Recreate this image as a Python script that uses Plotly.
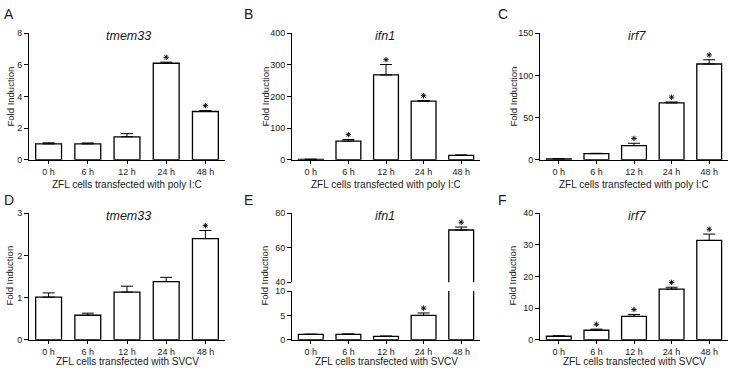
import plotly.graph_objects as go

W, H = 730, 371

categories = ["0 h", "6 h", "12 h", "24 h", "48 h"]

a_vals = [1.0, 1.0, 1.45, 6.1, 3.05]
a_err = [0.07, 0.06, 0.2, 0.07, 0.06]
a_sig = [0, 0, 0, 1, 1]

b_vals = [1.0, 59, 268, 185, 14]
b_err = [0.5, 5, 33, 2, 1]
b_sig = [0, 1, 1, 1, 0]

c_vals = [0.9, 7.2, 16.8, 67.4, 113.5]
c_err = [0.3, 0.4, 2.7, 1.0, 5.0]
c_sig = [0, 0, 1, 1, 1]

d_vals = [1.01, 0.58, 1.13, 1.38, 2.4]
d_err = [0.1, 0.05, 0.14, 0.1, 0.19]
d_sig = [0, 0, 0, 0, 1]

e_vals = [1.1, 1.1, 0.7, 5.0, 70.3]
e_err = [0.05, 0.1, 0.05, 0.5, 1.7]
e_sig = [0, 0, 0, 1, 1]

f_vals = [1.1, 3.0, 7.4, 16.0, 31.4]
f_err = [0.15, 0.35, 0.6, 0.6, 2.0]
f_sig = [0, 1, 1, 1, 1]

genes = ["tmem33", "ifn1", "irf7", "tmem33", "ifn1", "irf7"]
letters = ["A", "B", "C", "D", "E", "F"]
xtitles = ["ZFL cells transfected with poly I:C"] * 3 + ["ZFL cells transfected with SVCV"] * 3
y_ranges = [[0, 8], [0, 400], [0, 150], [0, 3], None, [0, 40]]
y_dticks = [2, 100, 50, 1, None, 10]
e_low_range = [0, 10]
e_up_range = [40, 80]

FONT = "Arial, Liberation Sans, sans-serif"
TXT = "#1a1a1a"

# pixel geometry
col_px = [(29, 225), (292, 480), (540, 728)]
row1 = (29, 159)
row2 = (214, 344)
e_low = (294, 344)
e_up = (214, 285)

def ydom(px):
    top, bot = px
    return [1 - bot / H, 1 - top / H]

def xdom(px):
    return [px[0] / W, px[1] / W]

fig = go.Figure()
layout = {}
annotations = []

vals_list = [a_vals, b_vals, c_vals, d_vals, e_vals, f_vals]
err_list = [a_err, b_err, c_err, d_err, e_err, f_err]
sig_list = [a_sig, b_sig, c_sig, d_sig, e_sig, f_sig]

xidx = list(range(len(categories)))

axis_common = dict(
    showline=True, linecolor="black", linewidth=1, ticks="outside",
    tickcolor="black", ticklen=4, tickwidth=1, showgrid=False, zeroline=False,
    tickfont=dict(family=FONT, size=9, color=TXT),
)

def add_bars(xa, ya, vals, errs, show_err=None):
    ev = list(errs)
    if show_err is not None:
        ev = [e if s else 0 for e, s in zip(errs, show_err)]
    fig.add_trace(go.Bar(
        x=xidx, y=vals, xaxis=xa, yaxis=ya, width=0.66,
        marker=dict(color="white", line=dict(color="black", width=1.3)),
        error_y=dict(type="data", array=ev, arrayminus=[0] * len(ev), symmetric=False,
                     color="black", thickness=1, width=6),
        showlegend=False, hoverinfo="skip",
    ))

def add_stars(xa, ya, vals, errs, sig, rng, px_height, keep=None):
    per_px = (rng[1] - rng[0]) / px_height
    xs, ys = [], []
    for k in xidx:
        if sig[k] and (keep is None or keep[k]):
            xs.append(k)
            ys.append(vals[k] + errs[k] + 5 * per_px)
    fig.add_trace(go.Scatter(
        x=xs, y=ys, xaxis=xa, yaxis=ya, mode="markers",
        marker=dict(symbol="asterisk-open", size=4.5, color="black",
                    line=dict(color="#222", width=0.9)),
        showlegend=False, hoverinfo="skip", cliponaxis=False,
    ))

for i in range(6):
    r = i // 3
    c = i % 3
    xn = i + 1
    xa = "x" if xn == 1 else f"x{xn}"
    rowpx = row1 if r == 0 else row2
    vals, errs, sig = vals_list[i], err_list[i], sig_list[i]
    if i != 4:
        ya = "y" if xn == 1 else f"y{xn}"
        add_bars(xa, ya, vals, errs)
        add_stars(xa, ya, vals, errs, sig, y_ranges[i], rowpx[1] - rowpx[0])
        layout["yaxis" if xn == 1 else f"yaxis{xn}"] = dict(
            axis_common, domain=ydom(rowpx), anchor=xa, range=y_ranges[i],
            dtick=y_dticks[i], tick0=0)
        layout["xaxis" if xn == 1 else f"xaxis{xn}"] = dict(
            axis_common, domain=xdom(col_px[c]), anchor=ya, range=[-0.5, 4.5],
            tickvals=xidx, ticktext=categories, ticklen=3)
    else:
        # broken axis panel E
        ya_low = "y5"
        ya_up = "y7"
        low_max = e_low_range[1]
        in_low = [v <= low_max for v in vals]
        in_up = [v > low_max for v in vals]
        add_bars(xa, ya_low, vals, errs, show_err=in_low)
        add_bars(xa, ya_up, vals, errs, show_err=in_up)
        add_stars(xa, ya_low, vals, errs, sig, e_low_range, e_low[1] - e_low[0], keep=in_low)
        add_stars(xa, ya_up, vals, errs, sig, e_up_range, e_up[1] - e_up[0], keep=in_up)
        layout["yaxis5"] = dict(axis_common, domain=ydom(e_low), anchor=xa,
                                range=e_low_range, dtick=5, tick0=0)
        layout["yaxis7"] = dict(axis_common, domain=ydom(e_up), anchor=xa,
                                range=e_up_range, dtick=20, tick0=40)
        layout["xaxis5"] = dict(axis_common, domain=xdom(col_px[c]), anchor=ya_low,
                                range=[-0.5, 4.5], tickvals=xidx, ticktext=categories,
                                ticklen=3)

    # gene title
    gene_x = [128, 385, 637][c]
    gene_y = 32 if r == 0 else 217
    annotations.append(dict(
        x=gene_x / W, y=1 - gene_y / H, xref="paper", yref="paper",
        text=f"<i>{genes[i]}</i>", showarrow=False, xanchor="center", yanchor="middle",
        font=dict(family=FONT, size=12.5, color=TXT)))
    # panel letter
    lx = [2, 242, 496][c]
    ly = 9 if r == 0 else 200
    annotations.append(dict(
        x=lx / W, y=1 - ly / H, xref="paper", yref="paper", text=letters[i],
        showarrow=False, xanchor="left", yanchor="middle",
        font=dict(family=FONT, size=14, color=TXT)))
    # y title
    ytx = [10, 265, 513][c]
    yty = 94 if r == 0 else 278
    annotations.append(dict(
        x=ytx / W, y=1 - yty / H, xref="paper", yref="paper", text="Fold Induction",
        showarrow=False, textangle=-90, xanchor="center", yanchor="middle",
        font=dict(family=FONT, size=9.5, color=TXT)))
    # x title
    xtx = (col_px[c][0] + col_px[c][1]) / 2
    xty = 184 if r == 0 else 366
    annotations.append(dict(
        x=xtx / W, y=1 - xty / H, xref="paper", yref="paper", text=xtitles[i],
        showarrow=False, xanchor="center", yanchor="middle",
        font=dict(family=FONT, size=10, color=TXT)))

fig.update_layout(
    width=W, height=H, margin=dict(l=0, r=0, t=0, b=0),
    paper_bgcolor="white", plot_bgcolor="white",
    annotations=annotations, barmode="overlay", showlegend=False,
    **layout,
)

fig.write_html(
    "out.html",
    config={"displayModeBar": False},
    post_script="document.body.style.margin='0';document.body.style.overflow='hidden';",
)
